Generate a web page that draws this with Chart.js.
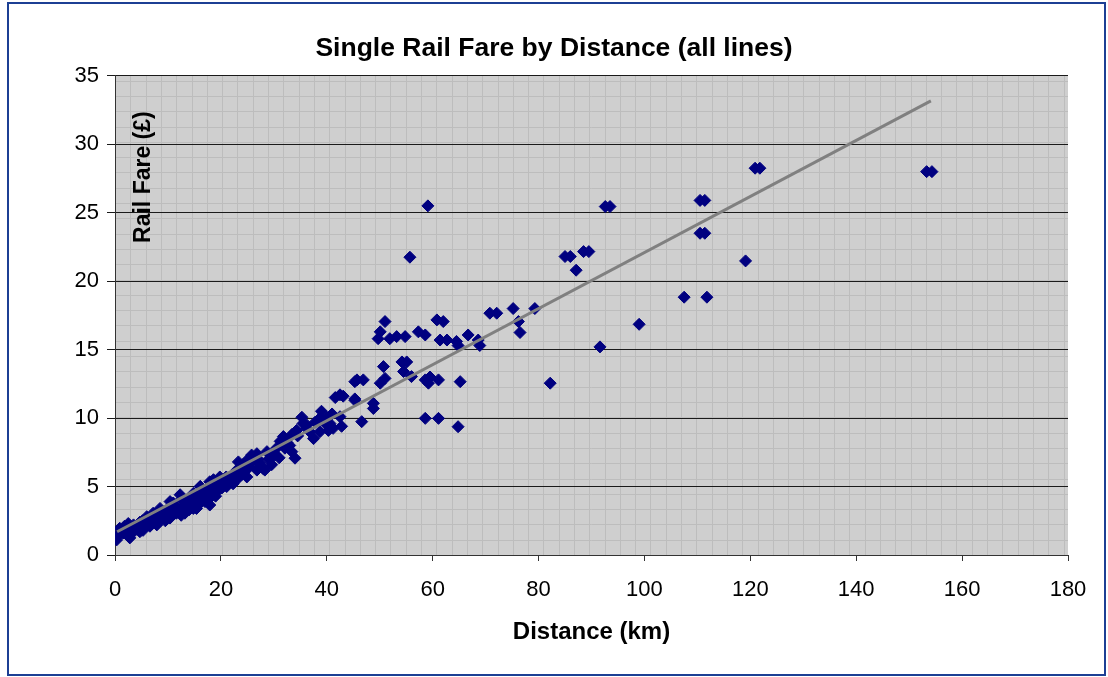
<!DOCTYPE html>
<html>
<head>
<meta charset="utf-8">
<title>Single Rail Fare by Distance</title>
<script src="https://cdn.jsdelivr.net/npm/chart.js@4.4.1/dist/chart.umd.min.js"></script>
<style>
  html, body { margin: 0; padding: 0; background: #fff; }
  #wrap { position: relative; width: 1108px; height: 677px; }
  #frame { position: absolute; left: 7px; top: 2px; width: 1095px; height: 670px; border: 2px solid #1c3f94; pointer-events: none; }
</style>
</head>
<body>
<div id="wrap">
  <canvas id="fareChart" width="1108" height="677"></canvas>
  <div id="frame"></div>
</div>
<script>
// distance (km) and single fare (£) per station pair
const distanceKm = [
  0.3, 0.3, 0.9, 1.2, 1.5, 1.8, 2.2, 2.5, 2.8, 2.8, 3.0, 3.5, 3.8, 4.0, 4.7, 4.7, 5.2, 5.3, 5.5, 5.8,
  6.0, 6.6, 6.8, 7.0, 7.2, 7.8, 7.9, 8.2, 8.5, 8.8, 9.0, 9.3, 9.5, 9.8, 10.1, 10.4, 10.4, 10.5, 11.0, 11.3,
  11.6, 12.0, 12.3, 12.5, 12.6, 12.8, 13.2, 13.2, 13.2, 13.8, 14.0, 14.2, 14.8, 14.8, 15.0, 15.4, 15.5, 15.8, 16.1, 16.1,
  16.1, 16.5, 16.7, 17.0, 17.3, 17.6, 17.6, 17.9, 17.9, 18.0, 18.3, 18.6, 18.9, 19.0, 19.2, 19.5, 19.8, 19.8, 20.0, 20.2,
  20.5, 20.8, 21.0, 21.1, 21.5, 22.0, 22.3, 22.5, 23.0, 23.0, 23.3, 23.5, 23.8, 24.0, 24.2, 24.5, 24.9, 24.9, 25.3, 25.5,
  25.8, 26.0, 26.8, 26.8, 27.0, 27.4, 28.0, 28.3, 28.7, 29.0, 29.6, 29.9, 30.2, 30.5, 31.0, 31.2, 31.8, 32.1, 32.1, 32.5,
  33.0, 33.4, 33.4, 34.0, 34.3, 34.5, 35.3, 35.5, 36.2, 36.2, 36.8, 37.5, 37.8, 38.7, 38.7, 39.0, 39.3, 39.7, 40.0, 40.3,
  40.6, 41.0, 41.2, 41.6, 42.5, 42.5, 42.8, 43.1, 45.3, 45.3, 45.3, 45.7, 46.6, 46.9, 48.8, 48.8, 49.7, 50.1, 50.1, 50.7,
  51.0, 51.0, 51.9, 53.2, 54.2, 54.5, 54.8, 55.1, 55.7, 56.0, 57.3, 58.6, 58.6, 58.6, 59.1, 59.2, 59.5, 60.8, 61.1, 61.1,
  61.4, 62.0, 62.7, 64.5, 64.8, 64.8, 65.2, 66.7, 68.6, 68.9, 70.8, 72.1, 75.2, 76.2, 76.5, 79.3, 82.2, 85.0, 86.0, 87.1,
  88.5, 89.5, 91.6, 92.6, 93.5, 99.0, 107.5, 110.5, 111.4, 110.5, 111.4, 111.8, 119.1, 120.9, 121.8, 153.3, 154.3
];
const fareGbp = [
  1.3, 1.1, 1.95, 1.7, 1.6, 2.1, 1.95, 2.3, 1.5, 1.25, 2.0, 2.2, 1.8, 2.1, 2.4, 1.7, 2.5, 1.8, 2.2, 2.5,
  2.8, 2.1, 2.6, 2.3, 3.05, 2.9, 2.2, 2.45, 3.4, 3.0, 2.7, 3.1, 2.5, 3.3, 2.8, 3.9, 2.7, 3.4, 3.8, 3.4,
  3.05, 3.3, 4.4, 2.9, 4.1, 3.6, 3.9, 3.2, 3.05, 3.8, 3.3, 4.1, 4.5, 3.4, 4.0, 3.4, 4.3, 3.7, 5.0, 3.8,
  5.0, 4.2, 4.6, 3.9, 4.1, 4.4, 4.8, 5.35, 3.65, 4.8, 4.3, 5.5, 4.75, 4.3, 4.6, 5.3, 5.0, 5.7, 5.4, 4.9,
  5.5, 5.1, 5.7, 5.0, 5.4, 5.7, 5.2, 5.9, 5.5, 6.2, 6.8, 6.0, 6.4, 5.9, 6.6, 6.1, 5.7, 6.9, 6.4, 6.9,
  7.3, 6.8, 7.4, 6.2, 7.0, 6.7, 6.3, 6.2, 7.55, 7.0, 6.6, 7.4, 7.3, 7.8, 7.1, 8.3, 8.65, 7.8, 8.5, 8.2,
  8.0, 8.8, 7.55, 7.07, 9.1, 8.7, 10.06, 9.6, 9.25, 9.5, 9.0, 8.5, 9.7, 9.0, 10.0, 10.5, 9.86, 9.6, 10.0, 9.1,
  9.6, 10.3, 9.25, 11.5, 11.7, 10.1, 9.4, 11.6, 12.66, 11.4, 11.3, 12.79, 9.74, 12.79, 11.08, 10.7, 15.8, 16.3, 12.55, 13.76,
  17.05, 12.9, 15.8, 15.95, 14.1, 13.4, 15.95, 14.1, 21.75, 13.03, 16.3, 16.07, 12.79, 9.98, 25.5, 12.55, 13.0, 17.17, 12.79, 9.98,
  15.7, 17.05, 15.7, 15.6, 15.3, 9.37, 12.66, 16.07, 15.7, 15.3, 17.66, 17.66, 18.0, 17.05, 16.25, 18.0, 12.55, 21.8, 21.8, 20.8,
  22.16, 22.16, 15.2, 25.45, 25.45, 16.85, 18.83, 25.9, 25.9, 23.5, 23.5, 18.83, 21.48, 28.25, 28.25, 28.0, 28.0
];

// linear trendline end points
const trendX = [0.4, 154.1];
const trendY = [1.70, 33.17];

const xTicks = [0, 20, 40, 60, 80, 100, 120, 140, 160, 180];
const yTicks = [0, 5, 10, 15, 20, 25, 30, 35];

const fontFamily = "'Liberation Sans', Arial, sans-serif";

// grey Excel-style patterned plot area
const plotBackground = {
  id: "plotBackground",
  beforeDraw(chart) {
    const { ctx, chartArea: a } = chart;
    ctx.save();
    ctx.fillStyle = "#cfcfcf";
    ctx.fillRect(a.left, a.top, a.right - a.left, a.bottom - a.top);
    ctx.strokeStyle = "#bdbdbd";
    ctx.lineWidth = 1;
    ctx.beginPath();
    for (let x = a.left + 15.3; x < a.right; x += 15.3) {
      ctx.moveTo(Math.round(x) + 0.5, a.top);
      ctx.lineTo(Math.round(x) + 0.5, a.bottom);
    }
    for (let y = a.bottom - 15.3; y > a.top; y -= 15.3) {
      ctx.moveTo(a.left, Math.round(y) + 0.5);
      ctx.lineTo(a.right, Math.round(y) + 0.5);
    }
    ctx.stroke();
    ctx.restore();
  }
};

// y-axis title sits inside the plot area in the original
const innerYTitle = {
  id: "innerYTitle",
  afterDraw(chart) {
    const { ctx, scales } = chart;
    const px = scales.x.getPixelForValue(5.5);
    const py = scales.y.getPixelForValue(27.6);
    ctx.save();
    ctx.translate(px, py);
    ctx.rotate(-Math.PI / 2);
    ctx.font = "bold 23px " + fontFamily;
    ctx.fillStyle = "#000";
    ctx.textAlign = "center";
    ctx.textBaseline = "middle";
    ctx.fillText("Rail Fare (£)", 0, 0);
    ctx.restore();
  }
};

new Chart(document.getElementById("fareChart"), {
  type: "scatter",
  data: {
    datasets: [{
      label: "Trend",
      type: "line",
      data: trendX.map((x, i) => ({ x: x, y: trendY[i] })),
      borderColor: "#808080",
      borderWidth: 3,
      pointRadius: 0,
      fill: false,
      order: 1
    }, {
      label: "Fare",
      data: distanceKm.map((d, i) => ({ x: d, y: fareGbp[i] })),
      pointStyle: "rectRot",
      pointRadius: 6,
      backgroundColor: "#000080",
      borderColor: "#000080",
      borderWidth: 1,
      order: 2
    }]
  },
  options: {
    responsive: false,
    animation: false,
    layout: { padding: { left: 40, right: 40, top: 0, bottom: 0 } },
    plugins: {
      legend: { display: false },
      tooltip: { enabled: false },
      title: {
        display: true,
        text: "Single Rail Fare by Distance (all lines)",
        color: "#000",
        font: { family: fontFamily, size: 26.5, weight: "bold" },
        padding: { top: 33, bottom: 11 }
      }
    },
    scales: {
      x: {
        type: "linear",
        min: 0,
        max: 180,
        afterBuildTicks: s => { s.ticks = xTicks.map(v => ({ value: v })); },
        ticks: { color: "#000", font: { family: fontFamily, size: 22 }, padding: 16 },
        grid: { drawOnChartArea: false, drawTicks: true, tickLength: 6, color: "#333" },
        border: { color: "#333", width: 1 },
        title: {
          display: true,
          text: "Distance (km)",
          color: "#000",
          font: { family: fontFamily, size: 24, weight: "bold" },
          padding: { top: 0, bottom: 30 }
        },
        afterFit: s => { s.height = 122; }
      },
      y: {
        min: 0,
        max: 35,
        afterBuildTicks: s => { s.ticks = yTicks.map(v => ({ value: v })); },
        ticks: { color: "#000", font: { family: fontFamily, size: 22 }, padding: 8 },
        grid: { color: "#1a1a1a", lineWidth: 1, tickLength: 8 },
        border: { color: "#333", width: 1 },
        afterFit: s => { s.width = 75; }
      }
    }
  },
  plugins: [plotBackground, innerYTitle]
});
</script>
</body>
</html>
